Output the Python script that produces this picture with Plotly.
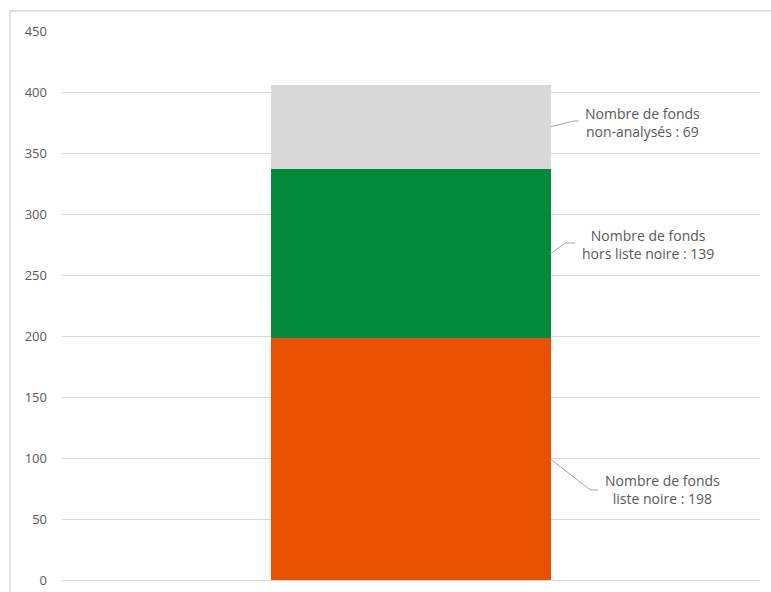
import plotly.graph_objects as go

# Stacked bar data (bottom to top)
segments = ["liste noire", "hors liste noire", "non-analysés"]
values = [198, 139, 69]
colors = ["#E95000", "#008A3A", "#D9D9D9"]
labels = [
    "Nombre de fonds<br>liste noire : 198",
    "Nombre de fonds<br>hors liste noire : 139",
    "Nombre de fonds<br>non-analysés : 69",
]
y_ticks = [0, 50, 100, 150, 200, 250, 300, 350, 400, 450]

BAR_W = 0.4
edge = BAR_W / 2

# leader geometry per segment: (elbow dx, elbow dy, end dx, text x, text dy)
leaders = [
    (0.057, -25.2, 0.068, 0.360, -25.2),
    (0.021, 8.7, 0.035, 0.340, 7.9),
    (0.033, 4.7, 0.040, 0.331, 3.9),
]

fig = go.Figure()
shapes = []
annotations = []
base = 0
for name, v, c, lab, (ex, ey, endx, tx, ty) in zip(segments, values, colors, labels, leaders):
    fig.add_trace(go.Bar(
        x=[0], y=[v], name=name, width=BAR_W,
        marker=dict(color=c, line=dict(width=0)),
        hoverinfo="y+name",
    ))
    mid = base + v / 2
    shapes.append(dict(
        type="path", xref="x", yref="y",
        path=f"M {edge},{mid} L {edge + ex},{mid + ey} L {edge + endx},{mid + ey}",
        line=dict(color="#A6A6A6", width=1),
    ))
    annotations.append(dict(
        x=tx, y=mid + ty, xref="x", yref="y", text=lab, showarrow=False,
        align="center", xanchor="center", yanchor="middle",
        font=dict(family="Open Sans", size=14, color="#595959"),
    ))
    base += v

# outer chart border
shapes.append(dict(
    type="rect", xref="paper", yref="paper",
    x0=-0.0745, x1=1.1, y0=-0.2, y1=1.0364,
    line=dict(color="#D9D9D9", width=1.5), fillcolor="rgba(0,0,0,0)", layer="below",
))

fig.update_layout(
    width=771, height=592,
    margin=dict(l=62, r=11, t=31, b=12, autoexpand=False),
    barmode="stack",
    showlegend=False,
    plot_bgcolor="white",
    paper_bgcolor="white",
    shapes=shapes,
    annotations=annotations,
    xaxis=dict(range=[-0.5, 0.5], visible=False, fixedrange=True, automargin=False),
    yaxis=dict(
        range=[0, 450], tickvals=y_ticks, automargin=False,
        showgrid=True, gridcolor="#D9D9D9", gridwidth=1,
        zeroline=True, zerolinecolor="#D9D9D9", zerolinewidth=1,
        showline=False, ticks="",
        ticklabelstandoff=14,
        tickfont=dict(family="Open Sans", size=13, color="#595959"),
    ),
)

fig.write_html("out.html")
